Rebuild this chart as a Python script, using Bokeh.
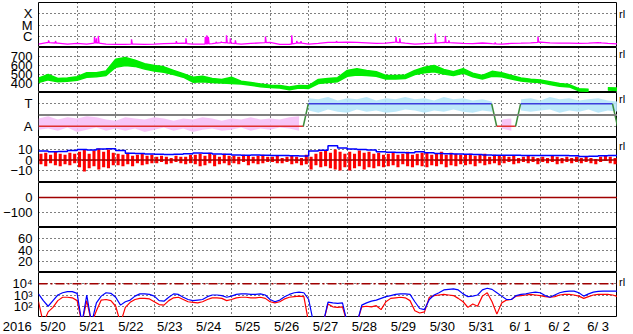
import numpy as np
from bokeh.plotting import figure
from bokeh.layouts import column, row
from bokeh.models import (Range1d, FixedTicker, Span, ColumnDataSource, CustomJSTickFormatter)
from bokeh.core.properties import value
from bokeh.embed import file_html
from bokeh.resources import INLINE

# ---------------- data ----------------
day_labels = ["5/20", "5/21", "5/22", "5/23", "5/24", "5/25", "5/26", "5/27",
              "5/28", "5/29", "5/30", "5/31", "6/ 1", "6/ 2", "6/ 3"]
year_label = "2016"
rl_marks = ["rl", "rl", "rl", "rl", "rl"]

t6 = np.arange(61) * 0.25      # days since 5/20 00UT, 6-hour samples
t3 = np.arange(121) / 8.0      # 3-hour samples

# GOES X-ray background (units of 1e-7 W/m2)
xray_base = [2.0, 2.8, 2.4, 2.0, 2.3, 2.0, 2.6, 2.0, 1.9, 1.9, 2.0, 1.9,
             2.0, 2.2, 2.3, 2.4, 2.0, 2.0, 2.2, 2.8, 2.4, 2.0, 2.3, 2.6,
             2.8, 1.9, 1.9, 2.6, 2.0, 2.3, 2.8, 2.8, 3.0, 2.8, 2.6, 2.3,
             2.4, 3.0, 2.4, 2.0, 2.2, 2.4, 2.8, 2.6, 2.3, 2.2, 2.5, 2.2,
             2.0, 2.3, 2.4, 2.6, 3.0, 2.6, 2.4, 2.4, 2.3, 2.4, 2.7, 2.3, 2.1]
flare_t = [0.26, 0.44, 1.45, 1.50, 1.55, 2.41, 3.57, 3.82, 4.32, 4.36, 4.40, 4.60,
           4.73, 4.87, 4.97, 5.10, 5.88, 6.56, 6.69, 6.80, 7.72, 9.26, 9.36,
           10.28, 10.54, 10.63, 11.83, 12.94, 14.56]
flare_peak = [4.3, 3.7, 8.7, 6.6, 10.7, 5.4, 3.7, 6.6, 8.7, 12.0, 8.7, 3.2,
              3.2, 12.0, 6.6, 4.3, 9.5, 12.0, 3.7, 3.7, 3.7, 8.7, 6.6,
              17.0, 10.7, 4.3, 2.8, 9.5, 2.8]

# solar wind speed envelope (km/s)
nan = float("nan")
spd_lo = [410, 440, 420, 425, 435, 470, 475, 490, 580, 600, 590, 560,
          540, 525, 500, 470, 415, 420, 410, 405, 400, 395, 380, 365,
          355, 350, 330, 350, 345, 400, 410, 420, 480, 495, 490, 480,
          450, 450, 455, 500, 520, 530, 505, 490, 515, 475, 450, 480,
          475, 450, 428, 418, 410, 390, 370, 362, 318, 315, nan, 328, 322]
spd_hi = [460, 500, 455, 460, 475, 520, 520, 540, 670, 690, 660, 620,
          600, 585, 545, 510, 470, 480, 455, 445, 470, 425, 410, 395,
          380, 378, 360, 378, 375, 445, 455, 465, 545, 565, 545, 530,
          490, 488, 495, 545, 580, 600, 555, 530, 565, 515, 490, 535,
          520, 490, 462, 448, 440, 420, 400, 388, 342, 335, nan, 352, 350]

# IMF sector boundaries (A = away, T = toward)
sector_t = [0.0, 6.86, 6.99, 11.74, 11.87, 12.36, 12.49, 14.87, 15.0]
sector_s = ["A", "A", "T", "T", "A", "A", "T", "T", "A"]
phi_hi = [1.7, 1.9, 1.6, 1.8, 1.7, 1.9, 1.8, 1.6, 1.5, 1.8, 1.7, 1.6,
          1.8, 1.7, 1.5, 1.7, 1.6, 1.8, 1.7, 1.5, 1.7, 1.6, 1.8, 1.6,
          1.7, 1.6, 1.8, 1.9, 3.5, 3.4, 3.6, 3.3, 3.5, 3.4, 3.6, 3.3,
          3.5, 3.4, 3.6, 3.4, 3.5, 3.3, 3.6, 3.4, 3.5, 3.3, 3.4, 3.2,
          1.6, 1.7, 3.4, 3.5, 3.3, 3.6, 3.4, 3.5, 3.3, 3.4, 3.5, 3.3, 3.2]
phi_lo = [0.7, 0.8, 0.6, 0.9, 0.5, 0.7, 0.9, 0.6, 0.8, 0.6, 0.8, 0.5,
          0.7, 0.9, 0.6, 0.8, 0.5, 0.7, 0.8, 0.6, 0.7, 0.9, 0.6, 0.8,
          0.7, 0.9, 0.8, 0.6, 2.4, 2.2, 2.5, 2.3, 2.2, 2.5, 2.3, 2.4,
          2.2, 2.3, 2.5, 2.4, 2.2, 2.4, 2.3, 2.5, 2.3, 2.2, 2.4, 2.3,
          0.8, 0.6, 2.4, 2.3, 2.4, 2.5, 2.2, 2.4, 2.3, 2.5, 2.2, 2.4, 2.3]

# IMF |B| (nT, 6-hour) and Bz envelope (nT, 3-hour)
bt = [8.5, 8.0, 8.2, 9.0, 10.0, 9.5, 10.5, 10.8, 9.0, 6.5, 6.2, 5.8,
      5.5, 5.3, 5.6, 6.0, 6.8, 6.5, 5.8, 5.5, 4.8, 4.5, 4.8, 4.6,
      4.4, 4.2, 4.0, 3.8, 8.5, 9.3, 13.5, 11.5, 10.5, 10.0, 9.5, 8.0,
      7.5, 7.2, 7.0, 8.0, 7.0, 6.2, 6.0, 5.8, 5.5, 5.2, 4.8, 4.6,
      4.5, 4.5, 4.4, 4.3, 4.3, 4.2, 4.2, 4.0, 3.4, 3.6, 4.1, 4.2, 4.2]
bz_hi = [6, 7, 5, 8, 6, 5, 7, 6, 8, 10, 6, 9, 11, 8, 10, 7,
         6, 5, 7, 4, 5, 6, 4, 5, 3, 4, 3, 2, 4, 3, 3, 5,
         5, 6, 4, 7, 5, 3, 6, 4, 4, 3, 5, 4, 3, 4, 5, 3,
         3, 4, 2, 3, 4, 3, 2, 5, 3, 6, 8, 9, 7, 10, 8, 6,
         8, 6, 9, 7, 8, 6, 7, 5, 6, 7, 5, 6, 8, 5, 6, 7,
         7, 5, 6, 8, 5, 7, 6, 5, 5, 6, 4, 5, 6, 3, 5, 4,
         4, 3, 4, 2, 3, 4, 3, 2, 3, 2, 4, 3, 2, 3, 2, 3,
         2, 3, 2, 1, 3, 4, 3, 2, 3]
bz_lo = [-4, -6, -3, -5, -6, -4, -5, -3, -7, -11, -8, -6, -9, -7, -8, -5,
         -5, -6, -4, -6, -3, -5, -4, -3, -3, -2, -4, -3, -2, -3, -4, -3,
         -4, -6, -5, -3, -6, -4, -3, -5, -3, -4, -2, -5, -3, -4, -3, -2,
         -2, -3, -3, -2, -4, -3, -5, -4, -9, -5, -7, -6, -8, -9, -10, -7,
         -10, -8, -6, -9, -7, -8, -6, -7, -6, -5, -7, -4, -6, -7, -5, -6,
         -7, -5, -6, -4, -7, -5, -6, -4, -5, -4, -6, -3, -5, -4, -3, -5,
         -3, -2, -4, -3, -2, -3, -2, -4, -2, -3, -2, -4, -3, -2, -3, -2,
         -3, -2, -3, -4, -2, -1, -3, -4, -1]

# electron flux (log10, 3-hour): upper (blue) and lower (red) channel
e_blue_log = [3.1, 2.5, 2.0, 2.5, 3.0, 3.2, 3.3, 3.3,
              3.15, 0.5, 3.0, 0.5, 2.3, 2.9, 3.2, 3.15,
              2.8, 2.1, 2.4, 2.55, 2.9, 3.1, 3.1, 3.05,
              2.9, 2.5, 2.45, 2.8, 3.1, 3.05, 2.8, 2.6,
              2.5, 2.55, 2.6, 2.85, 3.0, 3.0, 2.95, 2.8,
              2.9, 3.05, 3.1, 3.1, 3.05, 3.05, 3.1, 3.0,
              2.6, 2.4, 2.55, 2.85, 3.05, 3.2, 3.25, 3.2,
              2.6, 0.5, 0.5, 0.5, 2.37, 2.3, 2.25, 2.3,
              0.5, 0.5, 0.5, 2.1, 2.3, 2.45, 2.55, 2.7,
              2.85, 2.95, 3.05, 3.1, 3.1, 3.05, 2.4, 1.8,
              1.7, 2.6, 3.0, 3.2, 3.45, 3.5, 3.54, 3.45,
              3.1, 2.85, 2.9, 3.0, 3.45, 3.6, 3.5, 3.2,
              2.9, 2.6, 2.6, 2.95, 3.05, 3.1, 3.2, 3.25,
              3.2, 2.95, 2.8, 3.0, 3.2, 3.3, 3.35, 3.35,
              3.2, 2.9, 3.1, 3.25, 3.33, 3.35, 3.35, 3.35, 3.35]
e_red_log = [2.4, 0.5, 1.5, 1.9, 2.5, 2.8, 2.8, 2.75,
             2.5, 0.5, 2.5, 0.5, 1.6, 2.55, 2.6, 2.5,
             2.0, 0.5, 1.9, 2.35, 2.6, 2.7, 2.7, 2.65,
             2.4, 2.15, 2.1, 2.5, 2.75, 2.8, 2.6, 2.4,
             2.35, 2.3, 2.4, 2.6, 2.75, 2.75, 2.7, 2.5,
             2.6, 2.75, 2.8, 2.8, 2.75, 2.75, 2.8, 2.7,
             2.4, 2.3, 2.4, 2.65, 2.8, 2.85, 2.9, 2.85,
             0.5, 0.5, 0.5, 0.5, 2.2, 1.95, 1.9, 1.95,
             0.5, 0.5, 0.5, 1.95, 2.0, 1.95, 2.05, 1.7,
             2.4, 2.7, 2.75, 2.8, 2.75, 2.5, 1.6, 1.4,
             1.5, 2.8, 2.95, 3.0, 3.05, 3.0, 2.95, 2.7,
             2.4, 1.9, 2.2, 2.0, 2.9, 3.2, 2.4, 1.3,
             2.3, 2.55, 2.6, 2.9, 2.95, 3.0, 3.05, 3.0,
             2.95, 2.85, 2.8, 2.85, 3.0, 3.05, 3.05, 3.0,
             2.9, 2.7, 2.85, 3.0, 3.05, 3.05, 3.05, 3.0, 2.87]

# ---------------- styling helpers ----------------
FONT = "Liberation Sans"
xr = Range1d(0, 15)


def style_axis(ax, size="13px", standoff=6):
    ax.axis_line_color = None
    ax.major_tick_line_color = None
    ax.minor_tick_line_color = None
    ax.major_tick_out = 0
    ax.major_tick_in = 0
    ax.minor_tick_out = 0
    ax.minor_tick_in = 0
    ax.major_label_standoff = standoff
    ax.major_label_text_font = FONT
    ax.major_label_text_font_size = size
    ax.major_label_text_color = "black"


def panel(h, yr, ticks, labels=None, ytype="linear", top=0):
    p = figure(width=617, height=h, x_range=xr, y_range=yr, y_axis_type=ytype,
               output_backend="svg", toolbar_location=None,
               min_border_left=33, min_border_right=0,
               min_border_top=top, min_border_bottom=0,
               x_axis_location=None)
    p.outline_line_color = "black"
    p.outline_line_width = 1
    p.xgrid.ticker = FixedTicker(ticks=list(range(1, 15)))
    for g in list(p.xgrid) + list(p.ygrid):
        g.grid_line_color = "black"
        g.grid_line_dash = "1 3"
        g.grid_line_width = 1
    ya = p.yaxis[0]
    ya.ticker = FixedTicker(ticks=ticks)
    if labels:
        lab = {str(k): v for k, v in zip(ticks, labels)}
        ya.formatter = CustomJSTickFormatter(args=dict(lab=lab), code="""
            for (const k in lab) { if (Math.abs(Number(k) - tick) <= 1e-9 * Math.abs(tick)) return lab[k] }
            return ''
        """)
    style_axis(ya)
    return p


def runs(mask):
    out, start = [], None
    for i, m in enumerate(mask):
        if m and start is None:
            start = i
        if (not m) and start is not None:
            out.append((start, i))
            start = None
    if start is not None:
        out.append((start, len(mask)))
    return out


panels = []

# 1) X-ray flux
p1 = panel(47, Range1d(1e-7, 1e-3), [1e-6, 1e-5, 1e-4], ["C", "M", "X"], ytype="log", top=2)
base_v = np.array(xray_base) * 1e-7
xt = list(t6)
xv = list(base_v)
for ft, fp in zip(flare_t, flare_peak):
    for dt, val in ((-0.006, None), (0.0, fp * 1e-7), (0.02, None)):
        tt = ft + dt
        xt.append(tt)
        xv.append(val if val is not None else float(np.interp(tt, t6, base_v)))
order = np.argsort(xt)
p1.line(np.array(xt)[order], np.array(xv)[order], line_color="#ff00ff", line_width=1.3)
panels.append(p1)

# 2) solar wind speed
p2 = panel(45, Range1d(300, 800), [400, 500, 600, 700])
lo = np.array(spd_lo, dtype=float)
hi = np.array(spd_hi, dtype=float)
for a, b in runs(~np.isnan(lo)):
    p2.varea(x=t6[a:b], y1=lo[a:b], y2=hi[a:b], fill_color="#00ee00")
    p2.line(t6[a:b], lo[a:b], line_color="#00ee00", line_width=1.5)
    p2.line(t6[a:b], hi[a:b], line_color="#00ee00", line_width=1.5)
panels.append(p2)

# 3) IMF sector
p3 = panel(45, Range1d(0, 4), [1, 3], ["A", "T"])
ph = np.array(phi_hi)
pl = np.array(phi_lo)
toward = ph > 2
for mask, col in ((toward, "#b6e6f8"), (~toward, "#f6c0f6")):
    for a, b in runs(mask):
        p3.varea(x=t6[a:b], y1=pl[a:b], y2=ph[a:b], fill_color=col, fill_alpha=0.9)
p3.add_layout(Span(location=2, dimension="width", line_color="#808080", line_width=2))
sv = [3 if s == "T" else 1 for s in sector_s]
seg = dict(x0=[], y0=[], x1=[], y1=[], c=[])
for i in range(len(sector_t) - 1):
    seg["x0"].append(sector_t[i]); seg["x1"].append(sector_t[i + 1])
    seg["y0"].append(sv[i]); seg["y1"].append(sv[i + 1])
    if sector_s[i] == sector_s[i + 1]:
        seg["c"].append("#e03030" if sector_s[i] == "A" else "#3c3cdc")
    else:
        seg["c"].append("#3c8c3c")
p3.segment("x0", "y0", "x1", "y1", color="c", line_width=1.5, source=ColumnDataSource(seg))
panels.append(p3)

# 4) IMF Bt / Bz
p4 = panel(45, Range1d(-21.5, 21.5), [-10, 0, 10])
p4.vbar(x=t3[:-1] + 1 / 16, width=0.08, bottom=bz_lo[:-1], top=bz_hi[:-1],
        fill_color="#ff0000", line_color=None)
p4.step(t6, bt, mode="after", line_color="#0000ff", line_width=1.5)
p4.add_layout(Span(location=0, dimension="width", line_color="#a00000", line_width=1.5))
panels.append(p4)

# 5) Dst (no data)
p5 = panel(45, Range1d(-200, 100), [-100, 0])
p5.add_layout(Span(location=0, dimension="width", line_color="#a00000", line_width=1.5))
panels.append(p5)

# 6) empty index panel
p6 = panel(45, Range1d(0, 80), [20, 40, 60])
panels.append(p6)

# 7) electron flux
p7 = panel(45, Range1d(1e1, 1e5), [1e2, 1e3, 1e4], ["10\u00b2", "10\u00b3", "10\u2074"],
           ytype="log")
p7.add_layout(Span(location=1e4, dimension="width", line_color="#a00000",
                   line_width=1.5, line_dash="9 3 2 3"))
p7.line(t3, 10 ** np.array(e_red_log), line_color="#ff0000", line_width=1.2)
p7.line(t3, 10 ** np.array(e_blue_log), line_color="#0000ff", line_width=1.2)
panels.append(p7)

# right-hand strip with the small "rl" marks beside panels 1, 2, 3, 4 and 7 (pixel rows)
strip = figure(width=16, height=317, x_range=Range1d(0, 16), y_range=Range1d(317, 0),
               output_backend="svg", toolbar_location=None,
               min_border_left=0, min_border_right=0, min_border_top=0, min_border_bottom=0,
               x_axis_location=None, y_axis_location=None)
strip.outline_line_color = None
strip.grid.visible = False
strip.text(x=[1.5] * 5, y=[13, 53, 98, 145, 281], text=rl_marks,
           text_font=value(FONT), text_font_size="11px", text_color="black",
           text_align="left", text_baseline="middle")

# date axis strip (frame spans the whole width so the year can sit at the left)
px_per_day = 584 / 15.0
pax = figure(width=633, height=17, x_range=Range1d(-33 / px_per_day, 15),
             y_range=Range1d(0, 1), output_backend="svg", toolbar_location=None,
             min_border_left=0, min_border_right=16, min_border_top=0,
             min_border_bottom=0, y_axis_location=None)
pax.outline_line_color = None
pax.grid.visible = False
xticks = [-0.42] + [i + 0.5 for i in range(15)]
xa = pax.xaxis[0]
xa.ticker = FixedTicker(ticks=xticks)
xa.major_label_overrides = dict(zip(xticks, [year_label] + day_labels))
style_axis(xa, standoff=1)

layout = column(row(column(*panels, spacing=0), strip, spacing=0), pax, spacing=0)
open("out.html", "w").write(file_html(layout, INLINE))
